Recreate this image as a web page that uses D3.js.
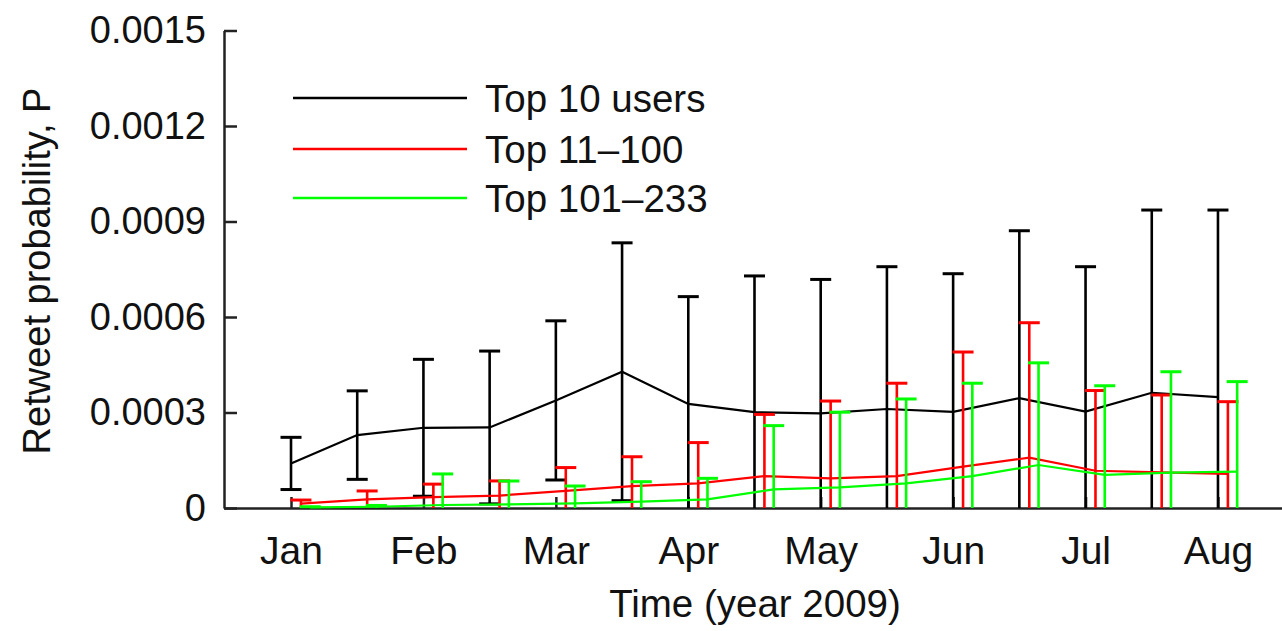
<!DOCTYPE html>
<html>
<head>
<meta charset="utf-8">
<script src="https://cdn.jsdelivr.net/npm/d3@7/dist/d3.min.js"></script>
<style>
  html, body { margin: 0; padding: 0; background: #fff; }
  svg { display: block; }
  text { font-family: "Liberation Sans", Arial, Helvetica, sans-serif; fill: #111; }
</style>
</head>
<body>
<svg id="chart" width="1282" height="631"></svg>
<script>
// ---- data ----
const periods = ["Jan 1","Jan 16","Feb 1","Feb 15","Mar 1","Mar 16","Apr 1","Apr 16",
                 "May 1","May 16","Jun 1","Jun 16","Jul 1","Jul 16","Aug 1"];
const monthLabels = ["Jan","Feb","Mar","Apr","May","Jun","Jul","Aug"];
const yTicks = [0, 0.0003, 0.0006, 0.0009, 0.0012, 0.0015];
const seriesNames = ["Top 10 users", "Top 11\u2013100", "Top 101\u2013233"];
const seriesColors = ["#000000", "#ff0000", "#00ff00"];

const top10Mean = [0.000140,0.000229,0.000252,0.000253,0.000338,0.000428,0.000327,0.000301,
                   0.000297,0.000311,0.000302,0.000345,0.000303,0.000362,0.000348];
const top10Err  = [0.000082,0.000139,0.000215,0.000240,0.000250,0.000405,0.000337,0.000428,
                   0.000421,0.000447,0.000434,0.000526,0.000455,0.000574,0.000588];
const top100Mean = [0.000014,0.000027,0.000034,0.000039,0.000054,0.000069,0.0000775,0.000100,
                    0.000093,0.000100,0.000130,0.000158,0.000117,0.000112,0.000107];
const top100Err  = [0.000011,0.0000265,0.000041,0.000046,0.000073,0.000092,0.000128,0.000194,
                    0.000243,0.000292,0.000360,0.000424,0.000252,0.000243,0.000227];
const top233Mean = [0.000002,0.000004,0.0000094,0.0000115,0.0000147,0.000020,0.0000273,0.0000587,
                    0.000065,0.0000775,0.000100,0.000135,0.000104,0.000111,0.000114];
const top233Err  = [0.000002,0.000004,0.0000976,0.0000733,0.0000544,0.0000626,0.0000659,0.000200,
                    0.000236,0.000265,0.000292,0.000321,0.000280,0.000317,0.000283];

const seriesMeans = [top10Mean, top100Mean, top233Mean];
const seriesErrs  = [top10Err, top100Err, top233Err];
const seriesOffsets = [0, 0.15, 0.29]; // horizontal dodge, in period steps

// ---- scales ----
const svg = d3.select("#chart");
const x = d3.scaleLinear().domain([-1.012, 14.967]).range([224, 1282]);
const y = d3.scaleLinear().domain([0, 0.0015]).range([508, 30.5]);

// ---- axes ----
const yAxis = d3.axisLeft(y).tickValues(yTicks)
  .tickSizeInner(-13).tickSizeOuter(0).tickPadding(18)
  .tickFormat(d => d === 0 ? "0" : d.toFixed(4));
const gy = svg.append("g").attr("transform", "translate(224,0)").call(yAxis);
gy.select(".domain").attr("stroke", "#222").attr("stroke-width", 2.5);
gy.selectAll(".tick line").attr("stroke", "#222").attr("stroke-width", 2.5);
gy.selectAll(".tick text").style("font-size", "38px").attr("fill", "#111")
  .style("font-family", "'Liberation Sans', Arial, sans-serif");

const monthIdx = monthLabels.map((m, i) => i * 2);
const xAxis = d3.axisBottom(x).tickValues(monthIdx)
  .tickSizeInner(-11).tickSizeOuter(0).tickPadding(28)
  .tickFormat((d, i) => monthLabels[i]);
const gx = svg.append("g").attr("transform", "translate(0,508)").call(xAxis);
gx.select(".domain").attr("stroke", "#222").attr("stroke-width", 2.5);
gx.selectAll(".tick line").attr("stroke", "#222").attr("stroke-width", 2.5);
gx.selectAll(".tick text").style("font-size", "39px").attr("fill", "#111")
  .style("font-family", "'Liberation Sans', Arial, sans-serif");

// axis titles
svg.append("text").attr("x", 755).attr("y", 617).attr("text-anchor", "middle")
  .style("font-size", "38.5px").text("Time (year 2009)");
svg.append("text").attr("transform", "translate(50,271) rotate(-90)")
  .attr("text-anchor", "middle").style("font-size", "38px").text("Retweet probability, P");

// ---- series ----
const capHalf = 10.5;
seriesMeans.forEach((means, s) => {
  const errs = seriesErrs[s];
  const color = seriesColors[s];
  const off = seriesOffsets[s];
  const g = svg.append("g");
  const pts = means.map((m, i) => ({xi: i + off, m: m, e: errs[i]}));
  // error bars
  pts.forEach(p => {
    const cx = x(p.xi);
    const hi = p.m + p.e;
    const lo = Math.max(0, p.m - p.e);
    g.append("line").attr("x1", cx).attr("x2", cx).attr("y1", y(lo)).attr("y2", y(hi))
      .attr("stroke", color).attr("stroke-width", 2.6);
    g.append("line").attr("x1", cx - capHalf).attr("x2", cx + capHalf).attr("y1", y(hi)).attr("y2", y(hi))
      .attr("stroke", color).attr("stroke-width", 3);
    if (p.m - p.e > 0.000008) {
      g.append("line").attr("x1", cx - capHalf).attr("x2", cx + capHalf).attr("y1", y(lo)).attr("y2", y(lo))
        .attr("stroke", color).attr("stroke-width", 3);
    }
  });
  // mean line
  const line = d3.line().x(p => x(p.xi)).y(p => y(p.m));
  g.append("path").datum(pts).attr("d", line).attr("fill", "none")
    .attr("stroke", color).attr("stroke-width", 2.2);
});

// ---- legend ----
const legendY = [98, 149, 198];
seriesNames.forEach((name, i) => {
  svg.append("line").attr("x1", 293).attr("x2", 467).attr("y1", legendY[i]).attr("y2", legendY[i])
    .attr("stroke", seriesColors[i]).attr("stroke-width", 2.5);
  svg.append("text").attr("x", 485).attr("y", legendY[i] + 13.5)
    .style("font-size", "38.5px").text(name);
});
</script>
</body>
</html>
